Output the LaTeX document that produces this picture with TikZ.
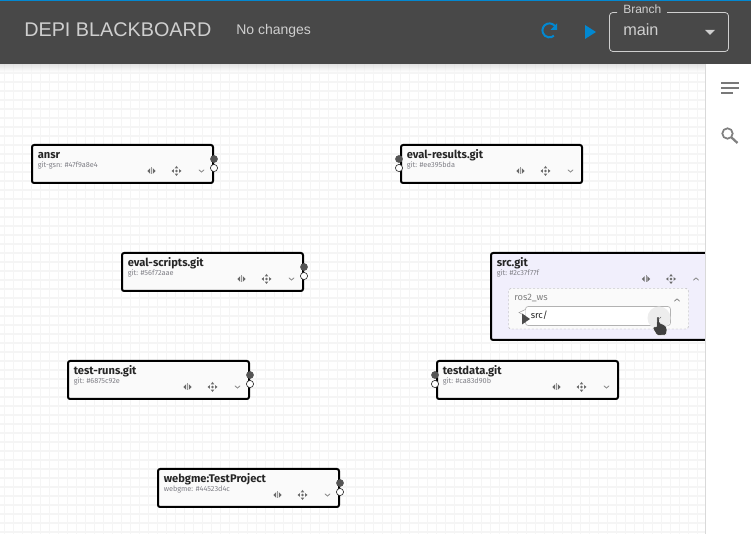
\documentclass[tikz,border=0pt]{standalone}
\usepackage{fontspec}
\setmainfont{Liberation Sans}
\newfontfamily\cardfont{Fira Sans}
\usetikzlibrary{calc}
\definecolor{hdr}{HTML}{484848}
\definecolor{hdrtxt}{HTML}{CFCFCF}
\definecolor{blueacc}{HTML}{0288D1}
\definecolor{gridc}{HTML}{F5F5F5}
\definecolor{cardfill}{HTML}{FAFAFA}
\definecolor{lav}{HTML}{F1EFFC}
\definecolor{subc}{HTML}{7F7F86}
\definecolor{iconc}{HTML}{6A6A6A}
\definecolor{portc}{HTML}{555555}
\tikzset{
  x=0.75pt,y=-0.75pt,
  cardbox/.style={draw=black,line width=1.5pt,rounded corners=1.6pt},
  cardtitle/.style={anchor=base west,inner sep=0,font=\cardfont\bfseries\fontsize{8.35pt}{9pt}\selectfont,text=black!85},
  cardsub/.style={anchor=base west,inner sep=0,font=\cardfont\fontsize{5.5pt}{6pt}\selectfont,text=subc},
  hdrtext/.style={anchor=base west,inner sep=0,text=hdrtxt},
  portfull/.style={circle,fill=portc,draw=portc,line width=.3pt,minimum size=5.4pt,inner sep=0},
  portopen/.style={circle,fill=white,draw=black!80,line width=.5pt,minimum size=5.4pt,inner sep=0},
}
\newcommand{\iconresize}[2]{%
  \fill[iconc] (#1-4.2,#2) -- (#1-1.4,#2-2.8) -- (#1-1.4,#2+2.8) -- cycle;
  \fill[iconc] (#1+4.2,#2) -- (#1+1.4,#2-2.8) -- (#1+1.4,#2+2.8) -- cycle;
  \draw[iconc!70,line width=.3pt] (#1,#2-3.5) -- (#1,#2+3.5);
}
\newcommand{\iconmove}[2]{%
  \fill[iconc] (#1-1.8,#2-2.6) -- (#1,#2-5) -- (#1+1.8,#2-2.6) -- cycle;
  \fill[iconc] (#1-1.8,#2+2.6) -- (#1,#2+5) -- (#1+1.8,#2+2.6) -- cycle;
  \fill[iconc] (#1-2.6,#2-1.8) -- (#1-5,#2) -- (#1-2.6,#2+1.8) -- cycle;
  \fill[iconc] (#1+2.6,#2-1.8) -- (#1+5,#2) -- (#1+2.6,#2+1.8) -- cycle;
  \fill[iconc] (#1,#2) circle[radius=1.3];
}
\newcommand{\iconchev}[2]{\draw[iconc!80,line width=.55pt] (#1-2.6,#2-1.3) -- (#1,#2+1.2) -- (#1+2.6,#2-1.3);}
\newcommand{\iconchevup}[2]{\draw[iconc!80,line width=.55pt] (#1-2.6,#2+1.3) -- (#1,#2-1.2) -- (#1+2.6,#2+1.3);}
\newcommand{\card}[6]{%
  \draw[cardbox,fill=cardfill] (#2,#3) rectangle (#2+181,#3+38);
  \node[cardtitle] (#1t) at (#2+5.5,#3+13.3) {#4};
  \node[cardsub] (#1s) at (#2+5.5,#3+23) {#5};
  \iconresize{#2+119.5}{#3+26}
  \iconmove{#2+144.5}{#3+26}
  \iconchev{#2+169.5}{#3+26}
  \ifnum#6=0
    \node[portfull] (#1a) at (#2+182,#3+14) {};
    \node[portopen] (#1b) at (#2+182,#3+23) {};
  \else
    \node[portfull] (#1a) at (#2-2,#3+14) {};
    \node[portopen] (#1b) at (#2-2,#3+23) {};
  \fi
}
\begin{document}
\begin{tikzpicture}
\useasboundingbox (0,0) rectangle (751,534);
\fill[white] (0,0) rectangle (751,534);
\foreach \i in {0,...,78} {\draw[gridc,line width=1.1pt] ({4.3+9*\i},64) -- ({4.3+9*\i},534);}
\foreach \i in {0,...,52} {\draw[gridc,line width=1.1pt] (0,{73+9*\i}) -- (706,{73+9*\i});}
\shade[top color=black!18,bottom color=white,opacity=.6] (0,64) rectangle (706,72);
\fill[hdr] (0,0) rectangle (751,64);
\fill[blueacc] (0,0) rectangle (751,1);
\node[hdrtext,font=\fontsize{14.85pt}{17pt}\selectfont] (title) at (24,37) {DEPI BLACKBOARD};
\node[hdrtext,font=\fontsize{10.5pt}{12pt}\selectfont] (status) at (236,35) {No changes};
\draw[blueacc,line width=1.5pt] (556,28) arc[start angle=-20,end angle=-310,radius=7];
\fill[blueacc] (557,23.5) -- (557,30) -- (550.5,30) -- cycle;
\fill[blueacc] (585,25) -- (596,32) -- (585,39) -- cycle;
\draw[hdrtxt,line width=.6pt,rounded corners=2.5pt] (617,12.5) -- (609.5,12.5) -- (609.5,51.5) -- (728.5,51.5) -- (728.5,12.5) -- (667,12.5);
\node[hdrtext,font=\fontsize{9pt}{11pt}\selectfont] (branchlab) at (623,14) {Branch};
\node[hdrtext,font=\fontsize{12.2pt}{14pt}\selectfont] (branchval) at (623,36) {main};
\fill[hdrtxt] (705,30) -- (715,30) -- (710,35) -- cycle;
\card{ansr}{32}{145}{ansr}{git-gsn: \#47f9a8e4}{0}
\card{res}{401}{145}{eval-results.git}{git: \#ee395bda}{1}
\card{scr}{122}{253}{eval-scripts.git}{git: \#56f72aae}{0}
\card{run}{68}{361}{test-runs.git}{git: \#6875c92e}{0}
\card{dat}{437}{361}{testdata.git}{git: \#ca83d90b}{1}
\card{web}{158}{469}{webgme:TestProject}{webgme: \#44523d4c}{0}
\draw[cardbox,fill=lav] (491,253) rectangle (712,340);
\node[cardtitle] (srct) at (496.5,266.3) {src.git};
\node[cardsub] (srcs) at (496.5,276) {git: \#2c37f77f};
\iconresize{646}{279}
\iconmove{671}{279}
\iconchevup{696}{279}
\draw[black!35,dash pattern=on 1.5pt off 1.5pt,line width=.35pt,fill=cardfill,rounded corners=2pt] (508.5,288.5) rectangle (688.5,329);
\node[anchor=base west,inner sep=0,font=\cardfont\fontsize{7pt}{8pt}\selectfont,text=black!50] (ros) at (514,301) {ros2\_ws};
\iconchevup{677}{300}
\draw[black!30,line width=.5pt,fill=white,rounded corners=2pt] (525.5,306.5) rectangle (670.5,325.5);
\node[anchor=base west,inner sep=0,font=\cardfont\fontsize{7pt}{8pt}\selectfont,text=black!85] (srcf) at (530.5,319) {src/};
\draw[black!40,line width=.35pt,fill=white] (525.5,309.5) -- (519,312.5) -- (525.5,316);
\fill[black!70] (522,313.5) -- (530,319) -- (522,324.5) -- cycle;
\fill[black!7] (659,318) circle[radius=11.5];
\draw[iconc,line width=.5pt] (658,320) -- (661,317);
\draw[white,line width=.4pt,fill=black!75,rounded corners=1pt] (657,316) -- (659,316) -- (659.5,323) -- (665,325) -- (667,328) -- (666.5,335) -- (657,335.5) -- (652.5,328) -- (654,326) -- (656.5,327.5) -- cycle;
\fill[white] (706,64) rectangle (751,534);
\draw[black!15,line width=.6pt] (705.5,64) -- (705.5,534);
\fill[iconc!90] (721,82) rectangle (739,84);
\fill[iconc!90] (721,87.5) rectangle (739,89.5);
\fill[iconc!90] (721,92.5) rectangle (733,94.5);
\draw[black!50,line width=1.3pt] (727.5,133.5) circle[radius=5.2];
\draw[black!50,line width=1.7pt] (731.5,137.5) -- (737.5,143);
\end{tikzpicture}
\end{document}
